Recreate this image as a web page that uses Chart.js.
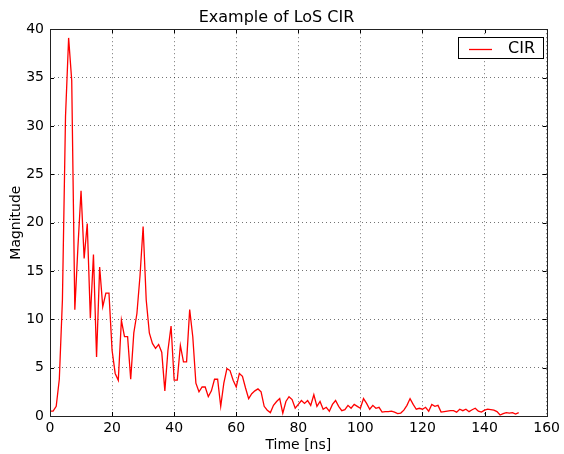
<!DOCTYPE html>
<html lang="en">
<head>
  <meta charset="UTF-8">
  <script src="https://cdn.jsdelivr.net/npm/chart.js"></script>
  <title>Example of LoS CIR</title>
  <style>
    html, body { margin: 0; padding: 0; background: #fff; }
    #wrap { width: 564px; height: 454px; }
  </style>
</head>
<body>
  <div id="wrap"><canvas id="graficoCIR" width="564" height="454"></canvas></div>

  <script>
    // Tiempo de muestreo (ns) y magnitud de la CIR
    const timeNs = [
      0, 1, 2, 3, 4, 5, 6, 7, 8, 9, 10, 11, 12, 13, 14, 15, 16, 17, 18, 19,
      20, 21, 22, 23, 24, 25, 26, 27, 28, 29, 30, 31, 32, 33, 34, 35, 36, 37, 38, 39,
      40, 41, 42, 43, 44, 45, 46, 47, 48, 49, 50, 51, 52, 53, 54, 55, 56, 57, 58, 59,
      60, 61, 62, 63, 64, 65, 66, 67, 68, 69, 70, 71, 72, 73, 74, 75, 76, 77, 78, 79,
      80, 81, 82, 83, 84, 85, 86, 87, 88, 89, 90, 91, 92, 93, 94, 95, 96, 97, 98, 99,
      100, 101, 102, 103, 104, 105, 106, 107, 108, 109, 110, 111, 112, 113, 114, 115, 116, 117, 118, 119,
      120, 121, 122, 123, 124, 125, 126, 127, 128, 129, 130, 131, 132, 133, 134, 135, 136, 137, 138, 139,
      140, 141, 142, 143, 144, 145, 146, 147, 148, 149, 150, 151
    ];
    const cir = [
      0.5, 0.5, 1.0, 3.8, 12.0, 31.0, 39.1, 34.7, 11.0, 17.5, 23.3, 16.3, 19.9, 10.1, 16.7, 6.1, 15.4, 11.3, 12.7, 12.7,
      6.8, 4.4, 3.7, 9.9, 8.2, 8.2, 3.8, 8.6, 10.6, 14.5, 19.6, 12.0, 8.6, 7.5, 7.0, 7.4, 6.6, 2.6, 6.8, 9.3,
      3.7, 3.7, 7.3, 5.6, 5.6, 11.0, 8.2, 3.4, 2.5, 3.0, 3.0, 2.0, 2.6, 3.8, 3.8, 1.0, 3.4, 4.9, 4.7, 3.7,
      3.0, 4.4, 4.1, 2.9, 1.8, 2.3, 2.6, 2.8, 2.5, 1.0, 0.6, 0.35, 1.1, 1.5, 1.8, 0.3, 1.5, 2.0, 1.7, 0.8,
      1.2, 1.6, 1.3, 1.6, 1.1, 2.2, 1.0, 1.5, 0.7, 0.9, 0.5, 1.2, 1.6, 1.0, 0.55, 0.65, 1.1, 0.8, 1.2, 1.0,
      0.8, 1.8, 1.3, 0.7, 1.1, 0.8, 0.9, 0.4, 0.45, 0.45, 0.5, 0.4, 0.25, 0.3, 0.6, 1.1, 1.8, 1.2, 0.7, 0.8,
      0.7, 0.9, 0.5, 1.2, 1.0, 1.1, 0.4, 0.45, 0.5, 0.55, 0.55, 0.4, 0.7, 0.55, 0.7, 0.45, 0.65, 0.8, 0.5, 0.4,
      0.6, 0.7, 0.65, 0.6, 0.45, 0.1, 0.25, 0.35, 0.3, 0.35, 0.2, 0.35
    ];
    const xTicks = [0, 20, 40, 60, 80, 100, 120, 140, 160];
    const yTicks = [0, 5, 10, 15, 20, 25, 30, 35, 40];

    const fuente = 'DejaVu Sans';

    // marco completo, marcas hacia dentro y leyenda con recuadro (estilo matplotlib)
    const estiloMpl = {
      id: 'estiloMpl',
      afterDraw(chart) {
        const { ctx, chartArea: a, scales } = chart;
        ctx.save();
        ctx.strokeStyle = '#000';
        ctx.lineWidth = 1;
        ctx.beginPath();
        scales.x.ticks.forEach(t => {
          const px = Math.round(scales.x.getPixelForValue(t.value)) + 0.5;
          ctx.moveTo(px, a.bottom); ctx.lineTo(px, a.bottom - 4);
          ctx.moveTo(px, a.top); ctx.lineTo(px, a.top + 4);
        });
        scales.y.ticks.forEach(t => {
          const py = Math.round(scales.y.getPixelForValue(t.value)) + 0.5;
          ctx.moveTo(a.left, py); ctx.lineTo(a.left + 4, py);
          ctx.moveTo(a.right, py); ctx.lineTo(a.right - 4, py);
        });
        ctx.stroke();
        ctx.strokeStyle = '#222';
        ctx.strokeRect(Math.round(a.left) + 0.5, Math.round(a.top) + 0.5,
          Math.round(a.right - a.left), Math.round(a.bottom - a.top));

        // leyenda
        const ds = chart.data.datasets[0];
        const bx = 458.5, by = 37.5, bw = 85, bh = 21;
        ctx.fillStyle = '#fff';
        ctx.fillRect(bx, by, bw, bh);
        ctx.strokeStyle = '#000';
        ctx.strokeRect(bx, by, bw, bh);
        ctx.strokeStyle = ds.borderColor;
        ctx.lineWidth = ds.borderWidth;
        ctx.beginPath();
        ctx.moveTo(469, 49.5); ctx.lineTo(492, 49.5);
        ctx.stroke();
        ctx.fillStyle = '#000';
        ctx.font = '16px "' + fuente + '"';
        ctx.textBaseline = 'middle';
        ctx.fillText(ds.label, 508, 49);
        ctx.restore();
      }
    };

    new Chart(document.getElementById('graficoCIR'), {
      type: 'line',
      data: {
        datasets: [{
          label: 'CIR',
          data: timeNs.map((t, i) => ({ x: t, y: cir[i] })),
          borderColor: '#ff0000',
          borderWidth: 1.3,
          pointRadius: 0,
          tension: 0,
          fill: false
        }]
      },
      options: {
        responsive: false,
        animation: false,
        devicePixelRatio: 1,
        layout: { padding: { left: 0, right: 11, top: 0, bottom: 0 } },
        plugins: {
          legend: { display: false },
          tooltip: { enabled: false },
          title: {
            display: true,
            text: 'Example of LoS CIR',
            color: '#000',
            font: { family: fuente, size: 16, weight: 'normal' },
            padding: { top: 8, bottom: 2 }
          }
        },
        scales: {
          x: {
            type: 'linear',
            min: 0,
            max: 160,
            afterBuildTicks: s => { s.ticks = xTicks.map(v => ({ value: v })); },
            afterFit: s => { s.height = 38; },
            ticks: { color: '#000', padding: 4, font: { family: fuente, size: 14 } },
            grid: { color: 'rgba(0,0,0,0.55)', lineWidth: 1, drawTicks: false },
            border: { display: false, dash: [1, 3] },
            title: {
              display: true,
              text: 'Time [ns]',
              color: '#000',
              font: { family: fuente, size: 14 },
              padding: { top: 0, bottom: 0 }
            }
          },
          y: {
            type: 'linear',
            min: 0,
            max: 40,
            afterBuildTicks: s => { s.ticks = yTicks.map(v => ({ value: v })); },
            afterFit: s => { s.width = 50; },
            ticks: { color: '#000', padding: 6, font: { family: fuente, size: 14 } },
            grid: { color: 'rgba(0,0,0,0.55)', lineWidth: 1, drawTicks: false },
            border: { display: false, dash: [1, 3] },
            title: {
              display: true,
              text: 'Magnitude',
              color: '#000',
              font: { family: fuente, size: 14 },
              padding: { top: 8, bottom: 8 }
            }
          }
        }
      },
      plugins: [estiloMpl]
    });
  </script>
</body>
</html>
